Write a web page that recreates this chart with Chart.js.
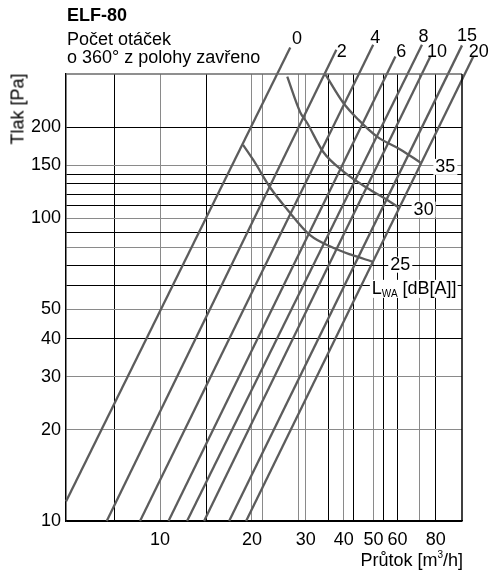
<!DOCTYPE html>
<html>
<head>
<meta charset="utf-8">
<script src="https://cdn.jsdelivr.net/npm/chart.js@4.4.1/dist/chart.umd.min.js"></script>
<style>
  html, body { margin: 0; padding: 0; background: #fff; }
  #wrap { position: relative; width: 491px; height: 576px; font-family: "Liberation Sans", Arial, sans-serif; color: #000; }
  #graf { position: absolute; left: 0; top: 0; }
  .titulek { position: absolute; left: 67px; top: 7px; font-weight: bold; font-size: 18px; line-height: 17px; }
  .podtitulek { position: absolute; left: 67px; top: 30px; font-size: 18px; line-height: 18px; white-space: nowrap; }
  .osa-y { position: absolute; left: 18px; top: 109px; font-size: 18px; line-height: 17px; white-space: nowrap;
           transform: translate(-50%, -50%) rotate(-90deg); }
  .osa-x { position: absolute; right: 28px; top: 552px; font-size: 18px; line-height: 17px; white-space: nowrap; }
  .osa-x sup { font-size: 10px; vertical-align: 8px; line-height: 0; }
</style>
</head>
<body>
<div id="wrap">
  <canvas id="graf" width="491" height="576"></canvas>
  <div class="titulek">ELF-80</div>
  <div class="podtitulek">Počet otáček<br>o 360° z polohy zavřeno</div>
  <div class="osa-y">Tlak [Pa]</div>
  <div class="osa-x">Průtok [m<sup>3</sup>/h]</div>
</div>
<script>
// rozsah os (log-log)
const prutokMin = 4.92, prutokMax = 97.5;
const tlakMin = 10, tlakMax = 300;

// svislá mřížka (m3/h) a popisky
const xMrizka = [7.1, 10, 14.2, 20, 21.6, 28.5, 30, 35.5, 40, 43, 50, 54, 60, 71, 80];
const xMrizkaCerna = [7.1, 14.2, 35.5, 43, 54, 60, 80];
const xPopisky = [10, 20, 30, 40, 50, 60, 80];

// vodorovná mřížka (Pa) a popisky
const yMrizka = [10, 20, 30, 40, 50, 60, 70, 80, 90, 100, 110, 120, 130, 140, 150, 200];
const yMrizkaSeda = [20, 30, 50, 80, 100, 150];
const yPopisky = [10, 20, 30, 40, 50, 100, 150, 200];

// charakteristiky pro počet otáček - začátek a konec přímky
const otacky = ['0', '2', '4', '6', '8', '10', '15', '20'];
const primkaQ = [[4.92, 26.7], [6.69, 37.8], [8.6, 49.9], [10.66, 59.0], [12.26, 72.1], [13.94, 76.8], [16.84, 97.5], [19.14, 106.2]];
const primkaP = [[11.6, 367], [10, 361], [10, 375], [10, 343], [10, 375], [10, 343], [10, 373], [10, 343]];
const otackyPopisQ = [28.1, 39.4, 50.7, 61.7, 73.0, 80.8, 101.3, 110.6];
const otackyPopisP = [390, 355, 393, 355, 398, 355, 400, 355];

// křivky hladiny hluku LWA
const hluk = ['25', '30', '35'];
const hluk25Q = [18.7, 20.2, 23.0, 26.1, 31.0, 36.9, 42.0, 49.5];
const hluk25P = [175, 156, 126, 107, 88, 80, 76, 72];
const hluk30Q = [26.1, 28.8, 30.3, 34.2, 39.8, 47.7, 55.5, 60.3];
const hluk30P = [294, 224, 207, 166, 143, 126, 115, 109];
const hluk35Q = [34.8, 39.8, 44.6, 51.5, 61.2, 71.2];
const hluk35P = [299, 241, 212, 186, 169, 153];
const hlukPopisQ = [61.2, 73.0, 86.0];
const hlukPopisP = [70.3, 106.9, 148];
const lwaQ = 49.4, lwaP = 58.5;

const barvaCar = '#5c5c5c';
const pismo = '"Liberation Sans", Arial, sans-serif';

function body(qs, ps) {
  return qs.map((q, i) => ({ x: q, y: ps[i] }));
}

const datasets = [];
otacky.forEach((t, i) => {
  datasets.push({
    label: t,
    data: body(primkaQ[i], primkaP[i]),
    borderColor: barvaCar,
    borderWidth: 2.3,
    pointRadius: 0,
    tension: 0,
    clip: false
  });
});
[[hluk25Q, hluk25P], [hluk30Q, hluk30P], [hluk35Q, hluk35P]].forEach(([q, p], i) => {
  datasets.push({
    label: 'LWA ' + hluk[i],
    data: body(q, p),
    borderColor: barvaCar,
    borderWidth: 2.3,
    pointRadius: 0,
    cubicInterpolationMode: 'monotone',
    clip: false
  });
});

// popisky primek, hluku a rámeček
const popisky = {
  id: 'popisky',
  afterDatasetsDraw(chart) {
    const { ctx, chartArea: a, scales: { x, y } } = chart;
    ctx.save();
    ctx.font = '18px ' + pismo;
    ctx.textAlign = 'center';
    ctx.textBaseline = 'middle';
    ctx.fillStyle = '#000';
    otacky.forEach((t, i) => {
      ctx.fillText(t, x.getPixelForValue(otackyPopisQ[i]), y.getPixelForValue(otackyPopisP[i]));
    });
    hluk.forEach((t, i) => {
      const px = x.getPixelForValue(hlukPopisQ[i]);
      const py = y.getPixelForValue(hlukPopisP[i]);
      const w = ctx.measureText(t).width;
      ctx.fillStyle = '#fff';
      ctx.fillRect(px - w / 2 - 2, py - 8, w + 4, 16);
      ctx.fillStyle = '#000';
      ctx.fillText(t, px, py);
    });
    // L_WA [dB[A]]
    let lx = x.getPixelForValue(lwaQ);
    const ly = y.getPixelForValue(lwaP);
    ctx.textAlign = 'left';
    ctx.font = '18px ' + pismo;
    const wL = ctx.measureText('L').width;
    const wR = ctx.measureText(' [dB[A]]').width;
    ctx.font = '10px ' + pismo;
    const wS = ctx.measureText('WA').width;
    ctx.fillStyle = '#fff';
    ctx.fillRect(lx - 2, ly - 9, wL + wS + wR + 3, 18);
    ctx.fillStyle = '#000';
    ctx.font = '18px ' + pismo;
    ctx.fillText('L', lx, ly);
    lx += wL;
    ctx.font = '10px ' + pismo;
    ctx.fillText('WA', lx, ly + 5);
    lx += wS;
    ctx.font = '18px ' + pismo;
    ctx.fillText(' [dB[A]]', lx, ly);
    // horní a pravý okraj
    ctx.lineWidth = 1.5;
    ctx.strokeStyle = '#6a6a6a';
    ctx.beginPath();
    ctx.moveTo(a.left, a.top);
    ctx.lineTo(a.right, a.top);
    ctx.stroke();
    ctx.strokeStyle = '#000';
    ctx.beginPath();
    ctx.moveTo(a.right, a.top);
    ctx.lineTo(a.right, a.bottom);
    ctx.stroke();
    ctx.restore();
  }
};

new Chart(document.getElementById('graf').getContext('2d'), {
  type: 'line',
  data: { datasets },
  plugins: [popisky],
  options: {
    responsive: false,
    animation: false,
    layout: { padding: { left: 0, right: 29, top: 74, bottom: 25 } },
    plugins: {
      legend: { display: false },
      tooltip: { enabled: false }
    },
    scales: {
      x: {
        type: 'logarithmic',
        min: prutokMin,
        max: prutokMax,
        afterBuildTicks: s => { s.ticks = xMrizka.map(v => ({ value: v })); },
        afterFit: s => { s.height = 30; },
        border: { color: '#000', width: 1.5 },
        grid: {
          drawTicks: false,
          lineWidth: 1,
          color: c => (c.tick && xMrizkaCerna.includes(c.tick.value)) ? '#000' : '#8a8a8a'
        },
        ticks: {
          autoSkip: false,
          maxRotation: 0,
          padding: 8,
          color: '#000',
          font: { family: pismo, size: 18 },
          callback: v => xPopisky.includes(v) ? String(v) : ''
        }
      },
      y: {
        type: 'logarithmic',
        min: tlakMin,
        max: tlakMax,
        afterBuildTicks: s => { s.ticks = yMrizka.map(v => ({ value: v })); },
        afterFit: s => { s.width = 66; },
        border: { color: '#000', width: 1.5 },
        grid: {
          drawTicks: false,
          lineWidth: 1,
          color: c => (c.tick && yMrizkaSeda.includes(c.tick.value)) ? '#8a8a8a' : '#000'
        },
        ticks: {
          autoSkip: false,
          padding: 5,
          color: '#000',
          font: { family: pismo, size: 18 },
          callback: v => yPopisky.includes(v) ? String(v) : ''
        }
      }
    }
  }
});
</script>
</body>
</html>
